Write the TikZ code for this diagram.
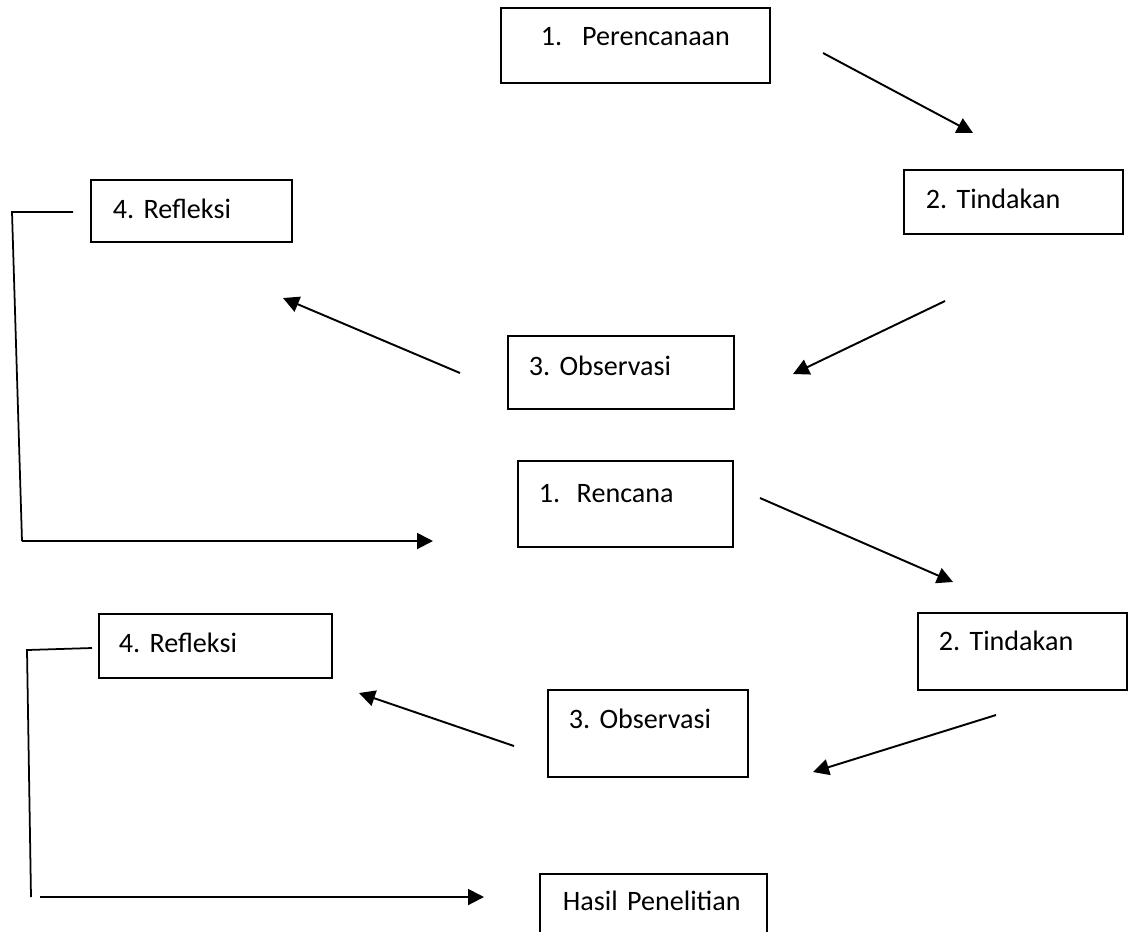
\documentclass[tikz,border=0pt]{standalone}
\usepackage{fontspec}
\setmainfont{Carlito}
\frenchspacing
\usetikzlibrary{arrows.meta}

\begin{document}
\begin{tikzpicture}[x=0.02cm,y=-0.02cm,
	kotak/.style={rectangle,draw,line width=1pt,inner sep=0pt,anchor=north west,align=left,font=\fontsize{16}{19}\selectfont},
	panah/.style={line width=1.1pt,-{Triangle[length=0.32cm,width=0.32cm]}},
	garis/.style={line width=1pt}]
	\useasboundingbox (0,0) rectangle (1131,931);
	\def\tab{\hspace{0.33cm}}
	% siklus I
	\node[kotak,text width=5.38cm,text height=0.76cm,text depth=0.74cm] (rencana1) at (500,7) {\hspace*{0.8cm}1.\hspace{0.4cm}Perencanaan};
	\node[kotak,text width=4.38cm,text height=0.78cm,text depth=0.5cm] (tindakan1) at (903,169) {\hspace*{0.44cm}2. Tindakan};
	\node[kotak,text width=4.52cm,text height=0.8cm,text depth=0.66cm] (observasi1) at (507,335) {\hspace*{0.42cm}3. Observasi};
	\node[kotak,text width=4.02cm,text height=0.78cm,text depth=0.46cm] (refleksi1) at (90,179) {\hspace*{0.44cm}4. Refleksi};
	%
	% siklus II
	\node[kotak,text width=4.3cm,text height=0.84cm,text depth=0.88cm] (rencana2) at (517,460) {\hspace*{0.42cm}1.\tab Rencana};
	\node[kotak,text width=4.18cm,text height=0.76cm,text depth=0.78cm] (tindakan2) at (917,612) {\hspace*{0.42cm}2. Tindakan};
	\node[kotak,text width=4cm,text height=0.78cm,text depth=0.96cm] (observasi2) at (547,689) {\hspace*{0.42cm}3. Observasi};
	\node[kotak,text width=4.66cm,text height=0.78cm,text depth=0.5cm] (refleksi2) at (98,613) {\hspace*{0.4cm}4. Refleksi};
	%
	\node[kotak,text width=4.54cm,text height=0.74cm,text depth=0.7cm] (hasil) at (539,873) {\hspace*{0.46cm}Hasil Penelitian};
	%
	% titik ujung panah
	\coordinate (p1a) at (823,53);  \coordinate (p1b) at (973,133);
	\coordinate (p2a) at (945,301); \coordinate (p2b) at (793,374);
	\coordinate (p3a) at (460,373); \coordinate (p3b) at (283,298);
	\coordinate (k1a) at (73,212);  \coordinate (k1b) at (12,212);
	\coordinate (k1c) at (22,541);  \coordinate (k1d) at (433,541);
	\coordinate (p4a) at (760,498); \coordinate (p4b) at (953,582);
	\coordinate (p5a) at (996,715); \coordinate (p5b) at (813,772);
	\coordinate (p6a) at (514,746); \coordinate (p6b) at (359,693);
	\coordinate (k2a) at (92,648);  \coordinate (k2b) at (27,650);
	\coordinate (k2c) at (31,897);  \coordinate (k2d) at (484,897);
	%
	\draw[panah] (p1a) -- (p1b);
	\draw[panah] (p2a) -- (p2b);
	\draw[panah] (p3a) -- (p3b);
	\draw[garis] (k1a) -- (k1b) -- (k1c);
	\draw[panah] (k1c) -- (k1d);
	%
	\draw[panah] (p4a) -- (p4b);
	\draw[panah] (p5a) -- (p5b);
	\draw[panah] (p6a) -- (p6b);
	\draw[garis] (k2a) -- (k2b) -- (k2c);
	\draw[panah] ([xshift=0.18cm]k2c) -- (k2d);
\end{tikzpicture}
\end{document}
